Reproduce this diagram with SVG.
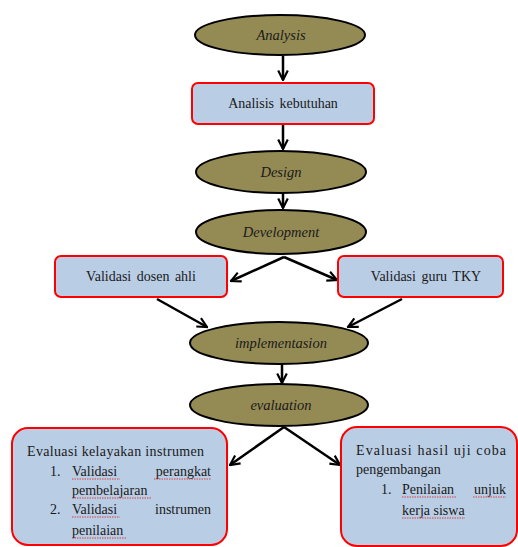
<svg xmlns="http://www.w3.org/2000/svg" width="518" height="547" viewBox="0 0 518 547">
<style>
.ell{fill:#948a54;stroke:#000;stroke-width:2}
.box{fill:#b9cde5;stroke:#ff0000;stroke-width:2}
.et{font-family:"Liberation Serif",serif;font-style:italic;font-size:14.5px;fill:#1a1a1a;text-anchor:middle}
.bt{font-family:"Liberation Serif",serif;font-size:14px;fill:#1a1a1a;text-anchor:middle;word-spacing:2px}
.lt{font-family:"Liberation Serif",serif;font-size:14px;fill:#1a1a1a}
.con{stroke:#000;stroke-width:2.5;fill:none;marker-end:url(#ah)}
.sq{stroke:#e02020;stroke-width:0.8;fill:none;stroke-dasharray:1.5 1}
</style>
<defs>
<marker id="ah" viewBox="0 0 10 10" refX="9" refY="5" markerWidth="12" markerHeight="12" markerUnits="userSpaceOnUse" orient="auto">
<path d="M1,1 L9,5 L1,9" fill="none" stroke="#000" stroke-width="1.8"/>
</marker>
</defs>
<g id="connectors">
<line class="con" x1="283" y1="56" x2="283" y2="80"/>
<line class="con" x1="283" y1="125" x2="283" y2="149"/>
<line class="con" x1="283" y1="193" x2="283" y2="208"/>
<line class="con" x1="284" y1="257" x2="231" y2="281"/>
<line class="con" x1="284" y1="257" x2="337" y2="280"/>
<line class="con" x1="157" y1="299" x2="207" y2="327"/>
<line class="con" x1="402" y1="299" x2="348" y2="327"/>
<line class="con" x1="282" y1="364" x2="282" y2="383"/>
<line class="con" x1="284" y1="427" x2="230" y2="465"/>
<line class="con" x1="284" y1="427" x2="340" y2="465"/>
</g>
<g id="analysis"><ellipse class="ell" cx="280" cy="35" rx="85" ry="20"/><text class="et" x="281" y="40">Analysis</text></g>
<g id="analisis-kebutuhan"><rect class="box" x="192" y="83" width="182" height="41" rx="6"/><text class="bt" x="283" y="108">Analisis kebutuhan</text></g>
<g id="design"><ellipse class="ell" cx="281" cy="172" rx="85" ry="21"/><text class="et" x="281" y="177">Design</text></g>
<g id="development"><ellipse class="ell" cx="281" cy="232" rx="85" ry="22"/><text class="et" x="281" y="237">Development</text></g>
<g id="validasi-dosen"><rect class="box" x="55" y="256" width="172" height="41" rx="6"/><text class="bt" x="141" y="281">Validasi dosen ahli</text></g>
<g id="validasi-guru"><rect class="box" x="338" y="256" width="165" height="41" rx="6"/><text class="bt" x="426" y="281">Validasi guru TKY</text></g>
<g id="implementasion"><ellipse class="ell" cx="279" cy="343" rx="89" ry="21"/><text class="et" x="281" y="348">implementasion</text></g>
<g id="evaluation"><ellipse class="ell" cx="279" cy="405" rx="89" ry="21"/><text class="et" x="281" y="410">evaluation</text></g>
<g id="evaluasi-kelayakan">
<rect class="box" x="12" y="428" width="215" height="117" rx="16"/>
<text class="lt" x="27" y="456" textLength="177" lengthAdjust="spacing">Evaluasi kelayakan instrumen</text>
<text class="lt" x="50" y="476">1.</text>
<text class="lt" x="72" y="476">Validasi</text>
<text class="lt" x="211" y="476" text-anchor="end">perangkat</text>
<text class="lt" x="72" y="495">pembelajaran</text>
<text class="lt" x="50" y="514">2.</text>
<text class="lt" x="72" y="514">Validasi</text>
<text class="lt" x="211" y="514" text-anchor="end">instrumen</text>
<text class="lt" x="72" y="535">penilaian</text>
<path class="sq" d="M72,479 H120 M154,479 H211 M72,498 H152 M72,517 H120 M72,538 H126"/>
</g>
<g id="evaluasi-hasil">
<rect class="box" x="341" y="427" width="176" height="119" rx="16"/>
<text class="lt" x="356" y="455" textLength="150" lengthAdjust="spacing">Evaluasi hasil uji coba</text>
<text class="lt" x="356" y="474">pengembangan</text>
<text class="lt" x="381" y="494">1.</text>
<text class="lt" x="402" y="494">Penilaian</text>
<text class="lt" x="506" y="494" text-anchor="end">unjuk</text>
<text class="lt" x="402" y="515">kerja siswa</text>
<path class="sq" d="M402,497 H456 M473,497 H506 M402,518 H465"/>
</g>
</svg>
